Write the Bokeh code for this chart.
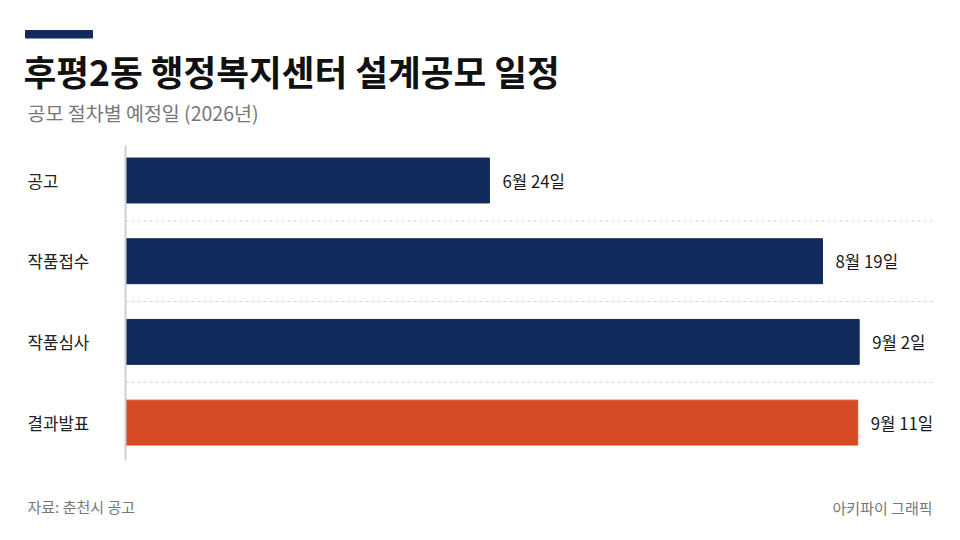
from bokeh.plotting import figure
from bokeh.models import ColumnDataSource, Range1d
from bokeh.core.properties import value
from bokeh.embed import file_html
from bokeh.resources import INLINE

# Data
steps = ["공고", "작품접수", "작품심사", "결과발표"]
dates = ["6월 24일", "8월 19일", "9월 2일", "9월 11일"]
bar_len = [49.6, 95.0, 100.0, 99.8]
colors = ["#112b5c", "#112b5c", "#112b5c", "#d64b25"]

FONT = value("Noto Sans CJK KR")
W, H = 944, 524

# layout: value 0 sits at x=125px, 7.337px per unit; first row at y=180px, 80.7px per row
X0, SX = 125, 7.337
Y0, SY = 180, 80.7


def dx(px):
    return (px - X0) / SX


def dy(py):
    return (py - Y0) / SY


ypos = list(range(len(steps)))
source = ColumnDataSource(data=dict(y=ypos, step=steps, date=dates, val=bar_len, color=colors))

p = figure(width=W, height=H, output_backend="svg", toolbar_location=None,
           x_range=Range1d(dx(0), dx(W)), y_range=Range1d(dy(H), dy(0)),
           min_border=0)
p.axis.visible = False
p.grid.visible = False
p.outline_line_color = None
p.background_fill_color = "white"
p.border_fill_color = "white"

# dashed separators between rows
sep_y = [i + 0.5 for i in ypos[:-1]]
p.segment(x0=0, x1=dx(933), y0=sep_y, y1=sep_y, line_color="#d4d4d4",
          line_width=1, line_dash="3 3")

p.hbar(y="y", left=0, right="val", height=0.557, color="color", source=source)

# baseline
p.segment(x0=0, x1=0, y0=dy(145), y1=dy(460), line_color="#cfcfcf", line_width=2)

# category labels and date labels
p.text(x=dx(27), y="y", text="step", source=source, text_font=FONT,
       text_font_size="16.8px", text_color="#222222", text_baseline="middle")
p.text(x="val", y="y", text="date", x_offset=13, source=source, text_font=FONT,
       text_font_size="16.8px", text_color="#1a1a1a", text_baseline="middle")

# header
p.quad(left=dx(25), right=dx(92), top=dy(30), bottom=dy(37.5), color="#112b5c")
p.text(x=dx(23), y=dy(70), text=["후평2동 행정복지센터 설계공모 일정"], text_font=FONT,
       text_font_size="35.6px", text_font_style="bold", text_color="#111111",
       text_baseline="middle")
p.text(x=dx(27), y=dy(112), text=["공모 절차별 예정일 (2026년)"], text_font=FONT,
       text_font_size="19.5px", text_color="#777777", text_baseline="middle")

# footer
p.text(x=dx(27), y=dy(506), text=["자료: 춘천시 공고"], text_font=FONT,
       text_font_size="15px", text_color="#777777", text_baseline="middle")
p.text(x=dx(932), y=dy(507), text=["아키파이 그래픽"], text_font=FONT, text_align="right",
       text_font_size="15px", text_color="#777777", text_baseline="middle")

open("out.html", "w").write(file_html(p, INLINE))
